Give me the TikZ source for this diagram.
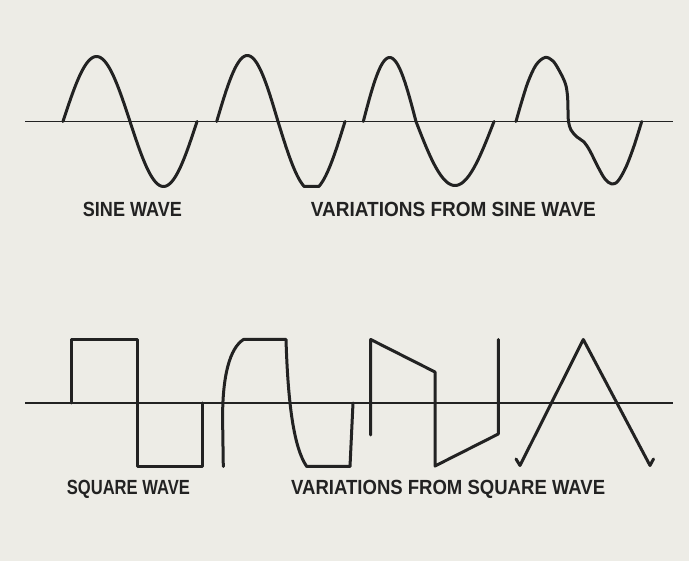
\documentclass[tikz,border=0pt]{standalone}
\usepackage{fontspec}
\setmainfont{Liberation Sans}
\usepackage{graphicx}
\definecolor{paper}{HTML}{EDECE6}
\definecolor{ink}{HTML}{222222}
\tikzset{
  axisline/.style={draw=ink, line width=1.8pt},
  wave/.style={draw=ink, line width=3pt, line join=round, line cap=round},
  lbl/.style={anchor=base west, inner sep=0pt, text=ink, font=\bfseries}
}
\newcommand{\lbltext}[2]{\resizebox{#1pt}{14.3pt}{#2}}
\begin{document}
\begin{tikzpicture}[x=1pt,y=-1pt]
\fill[paper] (0,0) rectangle (689,561);
\useasboundingbox (0,0) rectangle (689,561);

% axes
\coordinate (sa1) at (25,121.5);
\coordinate (sa2) at (673,121.5);
\coordinate (qa1) at (25,403);
\coordinate (qa2) at (673,403);
\draw[axisline] (sa1) -- (sa2);
\draw[axisline] (qa1) -- (qa2);

% ---- sine row ----
% pure sine
\draw[wave] plot[domain=0:360, samples=90, smooth] ({63 + (\x/360)*134}, {121.5 - 65*sin(\x)});
% variation 1: flattened bottom
\draw[wave] plot[domain=0:180, samples=45, smooth] ({216.7 + (\x/180)*61.3}, {121.5 - 66*sin(\x)})
  -- plot[domain=0:180, samples=60] ({278 + (\x/180)*67}, {121.5 + min(65, 69*sin(\x))});
% variation 2: narrow positive lobe, wide negative lobe
\draw[wave] plot[domain=0:180, samples=45, smooth] ({363.3 + (\x/180)*52.7}, {121.5 - 64*sin(\x)})
  -- plot[domain=0:180, samples=60, smooth] ({416 + (\x/180)*78}, {121.5 + 64*sin(\x)});
% variation 3: distorted
\draw[wave] plot[smooth, tension=0.55] coordinates {
  (516,121.5) (521,104) (528,82) (536,65) (545,57.5) (553,61) (560,72)
  (565.5,84) (567.5,96) (568,110) (568.5,121.5) (571,130) (577,137)
  (584,142) (590,151) (598,167) (605,179) (611.7,184) (618,181)
  (626,167) (634,146) (641.7,121.5)};

% ---- square row ----
\draw[wave] (71.7,403) -- (71.7,340) -- (137,340) -- (137,466.5) -- (202.3,466.5) -- (202.3,403);
% variation 1: rounded edges
\draw[wave] (223.3,466.5) -- (222.6,420) .. controls (222.3,375) and (230,348) .. (243.5,339.5)
  -- (286,339.5) .. controls (288,405) and (294,448) .. (306.7,466.5)
  -- (350,466.5) -- (353,403);
% variation 2: tilt
\draw[wave] (370.7,435) -- (370.7,339.5) -- (435,372) -- (435,466) -- (498.3,434) -- (498.3,339.5);
% variation 3: triangle
\draw[wave] (516,459) -- (520,465.5) -- (583.3,339.5) -- (650,465.5) -- (653.5,459);

% ---- labels ----
\node[lbl] (sinelbl) at (82.7,216.7) {\lbltext{99}{SINE WAVE}};
\node[lbl] (sinevar) at (310.7,216.7) {\lbltext{285}{VARIATIONS FROM SINE WAVE}};
\node[lbl] (sqlbl) at (66.7,494.7) {\lbltext{123}{SQUARE WAVE}};
\node[lbl] (sqvar) at (291,494.7) {\lbltext{314}{VARIATIONS FROM SQUARE WAVE}};
\end{tikzpicture}
\end{document}
